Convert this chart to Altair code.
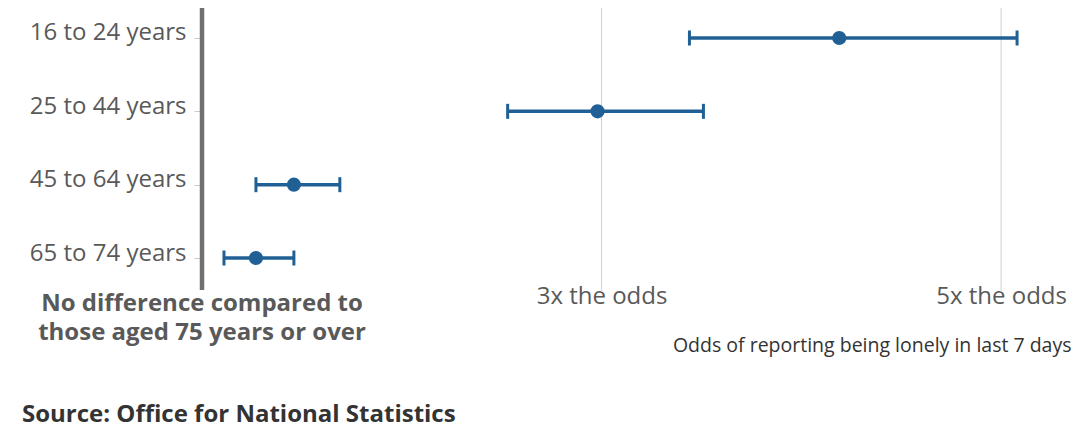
import altair as alt
import pandas as pd

# ---- data ----
groups = ["16 to 24 years", "25 to 44 years", "45 to 64 years", "65 to 74 years"]
odds = [4.19, 2.98, 1.46, 1.27]
lower = [3.44, 2.53, 1.27, 1.11]
upper = [5.08, 3.51, 1.69, 1.46]
grid_values = [3, 5]
reference_value = [1]
note_lines = ["No difference compared to", "those aged 75 years or over"]
source_text = "Source: Office for National Statistics"
x_title = "Odds of reporting being lonely in last 7 days"

df = pd.DataFrame({"group": groups, "odds": odds, "lower": lower, "upper": upper})
grid_df = pd.DataFrame({"v": grid_values})
ref_df = pd.DataFrame({"ref": reference_value, "note": ["\n".join(note_lines)]})
src_df = pd.DataFrame({"s": [source_text]})

W, H = 869, 274
BLUE = "#206095"

x_scale = alt.Scale(domain=[1, 5.35], nice=False, zero=False)
x_axis = alt.Axis(
    values=grid_values,
    labelExpr="datum.value + 'x the odds'",
    ticks=False, tickSize=0, domain=False, grid=False,
    labelFontSize=24, labelColor="#595959", labelBaseline="alphabetic",
    labelPadding=18,
    title=x_title, titleFontSize=19.5, titleFontWeight="normal",
    titleColor="#333333", titleX=W, titleY=66, titleAlign="right",
    titleBaseline="alphabetic",
)
y_enc = alt.Y(
    "group:N", sort=groups,
    scale=alt.Scale(type="point", padding=0.368),
    axis=alt.Axis(
        title=None, labelFontSize=24, labelColor="#595959",
        labelBaseline="alphabetic", labelOffset=2, labelPadding=8,
        tickSize=8, tickColor="#cccccc", domain=False, grid=False,
    ),
)

grid = alt.Chart(grid_df).mark_rule(color="#d0d0d0", strokeWidth=1).encode(
    x=alt.X("v:Q", scale=x_scale, axis=x_axis),
    y=alt.value(-6), y2=alt.value(281),
)
ref_line = alt.Chart(ref_df).mark_rule(color="#707070", strokeWidth=4.5).encode(
    x=alt.X("ref:Q", scale=x_scale, axis=x_axis),
    y=alt.value(-6), y2=alt.value(279),
)
bars = alt.Chart(df).mark_rule(color=BLUE, strokeWidth=3.5).encode(
    x=alt.X("lower:Q", scale=x_scale, axis=x_axis), x2="upper:Q", y=y_enc,
)
cap_lo = alt.Chart(df).mark_tick(color=BLUE, size=15, thickness=3, opacity=1).encode(
    x=alt.X("lower:Q", scale=x_scale, axis=x_axis), y=y_enc,
)
cap_hi = alt.Chart(df).mark_tick(color=BLUE, size=15, thickness=3, opacity=1).encode(
    x=alt.X("upper:Q", scale=x_scale, axis=x_axis), y=y_enc,
)
dots = alt.Chart(df).mark_circle(color=BLUE, size=200, opacity=1).encode(
    x=alt.X("odds:Q", scale=x_scale, axis=x_axis), y=y_enc,
)
note = alt.Chart(ref_df).mark_text(
    lineBreak="\n", align="center", baseline="alphabetic", fontSize=24,
    fontWeight="bold", color="#595959", lineHeight=29,
).encode(
    x=alt.X("ref:Q", scale=x_scale, axis=x_axis), y=alt.value(300), text="note:N",
)
source = alt.Chart(src_df).mark_text(
    align="left", baseline="alphabetic", fontSize=24, fontWeight="bold",
    color="#333333",
).encode(x=alt.value(-180), y=alt.value(411), text="s:N")

chart = alt.layer(grid, ref_line, bars, cap_lo, cap_hi, dots, note, source).properties(
    width=W, height=H, autosize="none",
    padding={"left": 194, "top": 3, "right": 8, "bottom": 144},
).configure(font="Open Sans").configure_view(stroke=None)

chart.save("out.html", embed_options={"renderer": "svg", "actions": False})
